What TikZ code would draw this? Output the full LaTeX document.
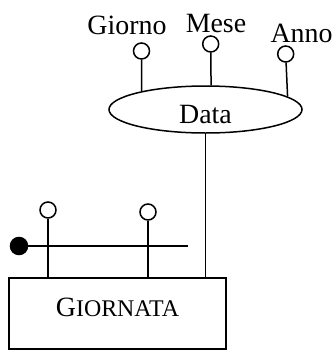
\documentclass[tikz,border=0pt]{standalone}
\usepackage{fontspec}
\setmainfont{Liberation Serif}
\usetikzlibrary{shapes.geometric}

\tikzset{every picture/.style={line width=1.5bp}}

\begin{document}
\begin{tikzpicture}[x=1bp,y=1bp,yscale=-1,xscale=1,
  attr/.style={draw,circle,fill=white,inner sep=0pt,minimum size=16bp},
  keyattr/.style={draw,circle,fill=black,inner sep=0pt,minimum size=17bp},
  txt/.style={anchor=base,inner sep=0pt,font=\fontsize{28}{30}\selectfont}]
\useasboundingbox (0,0) rectangle (335,350);

%Entity
\node [draw,line width=1.8bp,minimum width=217bp,minimum height=71bp,inner sep=0pt,text height=19bp,text depth=14bp] (giornata) at (117.5,313.5) {{\fontsize{28}{30}\selectfont G}{\fontsize{24}{26}\selectfont IORNATA}};
%Composite attribute
\node [draw,ellipse,minimum width=193bp,minimum height=47bp,inner sep=0pt,text height=27bp,text depth=0pt,font=\fontsize{28}{30}\selectfont] (data) at (205.5,109.5) {Data};

%Attributes
\node [attr] (giorno) at (141.5,51) {};
\node [attr] (mese) at (210.7,44) {};
\node [attr] (anno) at (285.7,54) {};
\node [attr] (gattr1) at (48,210) {};
\node [attr] (gattr2) at (148,212) {};
%Identifier
\node [keyattr] (key) at (19,246) {};
\coordinate (keyend) at (188,246);

%Straight Lines
\draw (giorno) -- (data.164.6);
\draw (mese) -- (data.77.5);
\draw (anno) -- (data.9.3);
\draw (data) -- (data.south |- giornata.north);
\draw (gattr1) -- (gattr1 |- giornata.north);
\draw (gattr2) -- (gattr2 |- giornata.north);
\draw (key) -- (keyend);

% Text Node
\node [txt] (lgiorno) at (127,34) {Giorno};
% Text Node
\node [txt] (lmese) at (216,32) {Mese};
% Text Node
\node [txt] (lanno) at (301.5,42) {Anno};

\end{tikzpicture}
\end{document}
